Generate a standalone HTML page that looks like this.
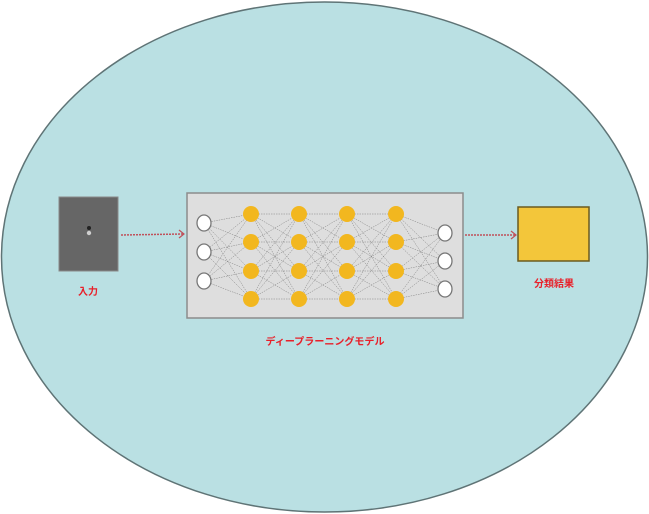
<!DOCTYPE html>
<html><head><meta charset="utf-8"><style>
html,body{margin:0;padding:0;background:#fff;width:649px;height:514px;overflow:hidden}
svg{display:block}
text{font-family:"Liberation Sans","Noto Sans CJK JP",sans-serif;font-weight:bold;fill:#e8202a}
</style></head><body>
<svg width="649" height="514" viewBox="0 0 649 514" xmlns="http://www.w3.org/2000/svg">
<ellipse cx="324.5" cy="257" rx="323" ry="255" fill="#bae0e3" stroke="#5f7476" stroke-width="1.5"/>
<rect x="59" y="197" width="59" height="74" fill="#666" stroke="#8a8a8a" stroke-width="1"/>
<circle cx="89" cy="228" r="2" fill="#222"/>
<circle cx="89" cy="233" r="2.2" fill="#cfcfcf"/>
<text x="88" y="295" font-size="10" text-anchor="middle">入力</text>
<line x1="121" y1="235" x2="183" y2="234" stroke="#c0505a" stroke-width="1.5" stroke-dasharray="2,1"/>
<path d="M179 230 L184 234 L179 238" fill="none" stroke="#c0505a" stroke-width="1.2"/>
<rect x="187" y="193" width="276" height="125" fill="#dedede" stroke="#8c8c8c" stroke-width="1.5"/>
<g stroke="#666" stroke-width="0.5" stroke-dasharray="1.5,1" fill="none" opacity="0.8">
<path d="M204 223L251 214M204 223L251 242M204 223L251 271M204 223L251 299M204 252L251 214M204 252L251 242M204 252L251 271M204 252L251 299M204 281L251 214M204 281L251 242M204 281L251 271M204 281L251 299"/>
<path d="M251 214L299 214M251 214L299 242M251 214L299 271M251 214L299 299M251 242L299 214M251 242L299 242M251 242L299 271M251 242L299 299M251 271L299 214M251 271L299 242M251 271L299 271M251 271L299 299M251 299L299 214M251 299L299 242M251 299L299 271M251 299L299 299"/>
<path d="M299 214L347 214M299 214L347 242M299 214L347 271M299 214L347 299M299 242L347 214M299 242L347 242M299 242L347 271M299 242L347 299M299 271L347 214M299 271L347 242M299 271L347 271M299 271L347 299M299 299L347 214M299 299L347 242M299 299L347 271M299 299L347 299"/>
<path d="M347 214L396 214M347 214L396 242M347 214L396 271M347 214L396 299M347 242L396 214M347 242L396 242M347 242L396 271M347 242L396 299M347 271L396 214M347 271L396 242M347 271L396 271M347 271L396 299M347 299L396 214M347 299L396 242M347 299L396 271M347 299L396 299"/>
<path d="M396 214L445 233M396 214L445 261M396 214L445 289M396 242L445 233M396 242L445 261M396 242L445 289M396 271L445 233M396 271L445 261M396 271L445 289M396 299L445 233M396 299L445 261M396 299L445 289"/>
</g>
<g fill="#fff" stroke="#777" stroke-width="1.3">
<ellipse cx="204" cy="223" rx="7" ry="8"/><ellipse cx="204" cy="252" rx="7" ry="8"/><ellipse cx="204" cy="281" rx="7" ry="8"/>
<ellipse cx="445" cy="233" rx="7" ry="8"/><ellipse cx="445" cy="261" rx="7" ry="8"/><ellipse cx="445" cy="289" rx="7" ry="8"/>
</g>
<g fill="#f2b71f">
<circle cx="251" cy="214" r="8"/><circle cx="251" cy="242" r="8"/><circle cx="251" cy="271" r="8"/><circle cx="251" cy="299" r="8"/>
<circle cx="299" cy="214" r="8"/><circle cx="299" cy="242" r="8"/><circle cx="299" cy="271" r="8"/><circle cx="299" cy="299" r="8"/>
<circle cx="347" cy="214" r="8"/><circle cx="347" cy="242" r="8"/><circle cx="347" cy="271" r="8"/><circle cx="347" cy="299" r="8"/>
<circle cx="396" cy="214" r="8"/><circle cx="396" cy="242" r="8"/><circle cx="396" cy="271" r="8"/><circle cx="396" cy="299" r="8"/>
</g>
<text x="325" y="345" font-size="10" text-anchor="middle" textLength="119" lengthAdjust="spacingAndGlyphs">ディープラーニングモデル</text>
<line x1="465" y1="235" x2="515" y2="235" stroke="#c0505a" stroke-width="1.5" stroke-dasharray="2,1"/>
<path d="M511 231 L516 235 L511 239" fill="none" stroke="#c0505a" stroke-width="1.2"/>
<rect x="518" y="207" width="71" height="54" fill="#f3c63a" stroke="#6b5a20" stroke-width="1.5"/>
<text x="554" y="287" font-size="10" text-anchor="middle">分類結果</text>
</svg>
</body></html>
